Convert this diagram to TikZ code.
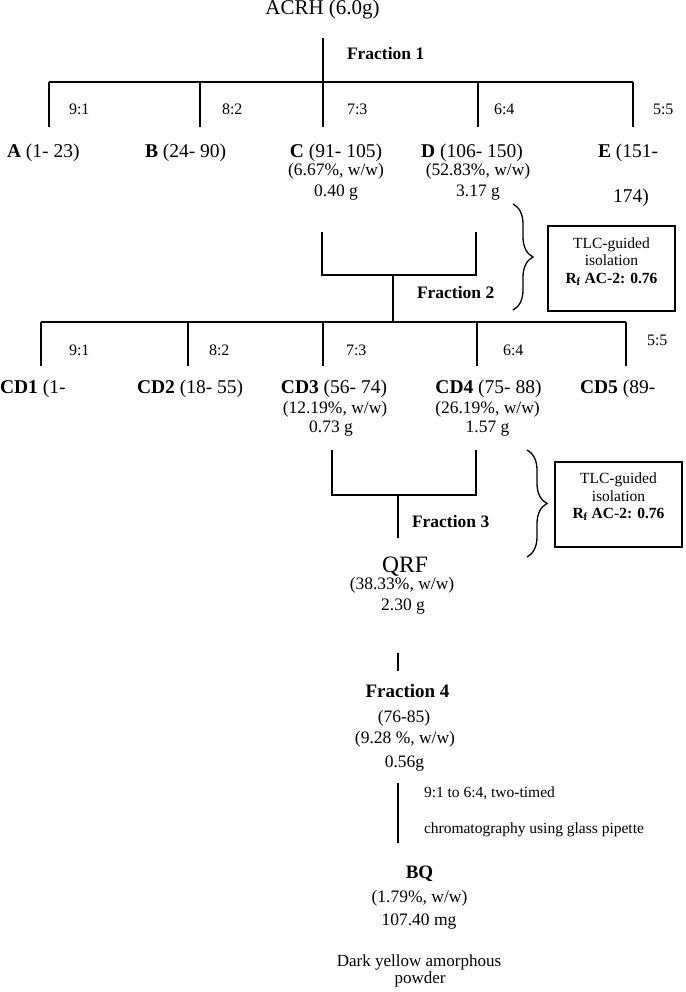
\documentclass[tikz,border=0pt]{standalone}
\usepackage{fontspec}
\setmainfont{Liberation Serif}
\usetikzlibrary{decorations.pathreplacing}
\newcommand{\myfs}[1]{\fontsize{#1}{#1}\selectfont}
\begin{document}
\begin{tikzpicture}[x=1pt,y=-1pt,
  every node/.style={inner sep=0pt, outer sep=0pt},
  ln/.style={line width=1.3pt},
  bigl/.style={font=\myfs{19.5}, anchor=base west},
  bigc/.style={font=\myfs{19.5}, anchor=base},
  subc/.style={font=\myfs{17.5}, anchor=base},
  ratio/.style={font=\myfs{16}, anchor=base west},
  fracl/.style={font=\bfseries\myfs{17.5}, anchor=base west},
  tlc/.style={font=\myfs{15.5}, anchor=base},
  tlcbox/.style={draw, line width=1.3pt, minimum width=127pt, minimum height=85pt},
  brc/.style={decorate, decoration={brace, amplitude=20pt}, line width=1.3pt},
]
\fill[white] (0,0) rectangle (685,992);
\useasboundingbox (0,0) rectangle (685,992);

% ---------- level 1 ----------
\node[font=\myfs{21}, anchor=base] (acrh) at (322.5,15) {ACRH (6.0g)};
\coordinate (t1) at (323,38);
\coordinate (j1) at (323,82);
\coordinate (h1l) at (49,82);
\coordinate (h1b) at (200,82);
\coordinate (h1d) at (478,82);
\coordinate (h1r) at (633,82);
\coordinate (e1a) at (49,127);
\coordinate (e1b) at (200,127);
\coordinate (e1c) at (323,127);
\coordinate (e1d) at (478,127);
\coordinate (e1e) at (633,127);
\draw[ln] (t1) -- (j1);
\draw[ln] (h1l) -- (h1r);
\draw[ln] (h1l) -- (e1a);
\draw[ln] (h1b) -- (e1b);
\draw[ln] (j1) -- (e1c);
\draw[ln] (h1d) -- (e1d);
\draw[ln] (h1r) -- (e1e);
\node[fracl] (fr1) at (347,60) {Fraction 1};
\node[ratio] (r1a) at (69,115) {9:1};
\node[ratio] (r1b) at (222,115) {8:2};
\node[ratio] (r1c) at (347,115) {7:3};
\node[ratio] (r1d) at (494,115) {6:4};
\node[ratio] (r1e) at (653,115) {5:5};

\node[bigl] (A) at (7,158) {\textbf{A} (1- 23)};
\node[bigl] (B) at (145,158) {\textbf{B} (24- 90)};
\node[bigc] (C) at (336,158) {\textbf{C} (91- 105)};
\node[bigc] (D) at (472,158) {\textbf{D} (106- 150)};
\node[bigl] (E) at (598,158) {\textbf{E} (151-};
\node[bigc] (E2) at (631,203) {174)};
\node[subc] (C1) at (336,176) {(6.67\%, w/w)};
\node[subc] (C2) at (336,197) {0.40 g};
\node[subc] (D1) at (478,176) {(52.83\%, w/w)};
\node[subc] (D2) at (478,197) {3.17 g};

% ---------- level 2 ----------
\coordinate (b1lt) at (322,232);
\coordinate (b1lb) at (322,275);
\coordinate (b1rb) at (476,275);
\coordinate (b1rt) at (476,232);
\coordinate (b1m) at (393,275);
\coordinate (j2) at (393,322);
\draw[ln] (b1lt) -- (b1lb) -- (b1rb) -- (b1rt);
\draw[ln] (b1m) -- (j2);
\node[fracl] (fr2) at (417,298) {Fraction 2};
\draw[brc] (513,204) -- (513,310);
\node[tlcbox] (box1) at (611.5,268.5) {};
\node[tlc] (box1a) at (611.5,248) {TLC-guided};
\node[tlc] (box1b) at (611.5,265) {isolation};
\node[tlc] (box1c) at (611.5,283) {\textbf{R\textsubscript{f} AC-2: 0.76}};

\coordinate (h2l) at (41,322);
\coordinate (h2b) at (188,322);
\coordinate (h2c) at (323,322);
\coordinate (h2d) at (477,322);
\coordinate (h2r) at (626,322);
\coordinate (e2a) at (41,366);
\coordinate (e2b) at (188,366);
\coordinate (e2c) at (323,366);
\coordinate (e2d) at (477,366);
\coordinate (e2e) at (626,366);
\draw[ln] (h2l) -- (h2r);
\draw[ln] (h2l) -- (e2a);
\draw[ln] (h2b) -- (e2b);
\draw[ln] (h2c) -- (e2c);
\draw[ln] (h2d) -- (e2d);
\draw[ln] (h2r) -- (e2e);
\node[ratio] (r2a) at (69,355) {9:1};
\node[ratio] (r2b) at (209,355) {8:2};
\node[ratio] (r2c) at (346,355) {7:3};
\node[ratio] (r2d) at (503,355) {6:4};
\node[ratio] (r2e) at (647,345) {5:5};

\node[bigl] (CD1) at (0,393) {\textbf{CD1} (1-};
\node[bigl] (CD2) at (137,393) {\textbf{CD2} (18- 55)};
\node[bigc] (CD3) at (334,393) {\textbf{CD3} (56- 74)};
\node[bigc] (CD4) at (488.5,393) {\textbf{CD4} (75- 88)};
\node[bigl] (CD5) at (580,393) {\textbf{CD5} (89-};
\node[subc] (CD31) at (335,413) {(12.19\%, w/w)};
\node[subc] (CD32) at (331,432) {0.73 g};
\node[subc] (CD41) at (487.5,413) {(26.19\%, w/w)};
\node[subc] (CD42) at (487.5,432) {1.57 g};

% ---------- level 3 ----------
\coordinate (b2lt) at (332,450);
\coordinate (b2lb) at (332,495);
\coordinate (b2rb) at (476,495);
\coordinate (b2rt) at (476,450);
\coordinate (b2m) at (398,495);
\coordinate (q3) at (398,538);
\draw[ln] (b2lt) -- (b2lb) -- (b2rb) -- (b2rt);
\draw[ln] (b2m) -- (q3);
\node[fracl] (fr3) at (412,527) {Fraction 3};
\draw[brc] (527,450) -- (527,557);
\node[tlcbox] (box2) at (618.5,504.5) {};
\node[tlc] (box2a) at (618.5,483) {TLC-guided};
\node[tlc] (box2b) at (618.5,501) {isolation};
\node[tlc] (box2c) at (618.5,518) {\textbf{R\textsubscript{f} AC-2: 0.76}};

\node[font=\myfs{23.5}, anchor=base] (QRF) at (405,572) {QRF};
\node[subc] (QRF1) at (402,589) {(38.33\%, w/w)};
\node[subc] (QRF2) at (403,610) {2.30 g};

% ---------- level 4 ----------
\coordinate (s4t) at (398,653);
\coordinate (s4b) at (398,671);
\draw[ln] (s4t) -- (s4b);
\node[font=\bfseries\myfs{19}, anchor=base] (fr4) at (407.5,697) {Fraction 4};
\node[subc] (fr4a) at (404,722) {(76-85)};
\node[subc] (fr4b) at (405,743) {(9.28 \%, w/w)};
\node[subc] (fr4c) at (404.5,767) {0.56g};
\coordinate (s5t) at (398,783);
\coordinate (s5b) at (398,843);
\draw[ln] (s5t) -- (s5b);
\node[font=\myfs{15.5}, anchor=base west] (cm1) at (424,797) {9:1 to 6:4, two-timed};
\node[font=\myfs{15.5}, anchor=base west] (cm2) at (424,833) {chromatography using glass pipette};

\node[font=\bfseries\myfs{19}, anchor=base] (BQ) at (419.5,878) {BQ};
\node[subc] (BQ1) at (419.5,902) {(1.79\%, w/w)};
\node[subc] (BQ2) at (419,925) {107.40 mg};
\node[font=\myfs{17}, anchor=base] (dy1) at (419,966) {Dark yellow amorphous};
\node[font=\myfs{17}, anchor=base] (dy2) at (420,983) {powder};
\end{tikzpicture}
\end{document}
